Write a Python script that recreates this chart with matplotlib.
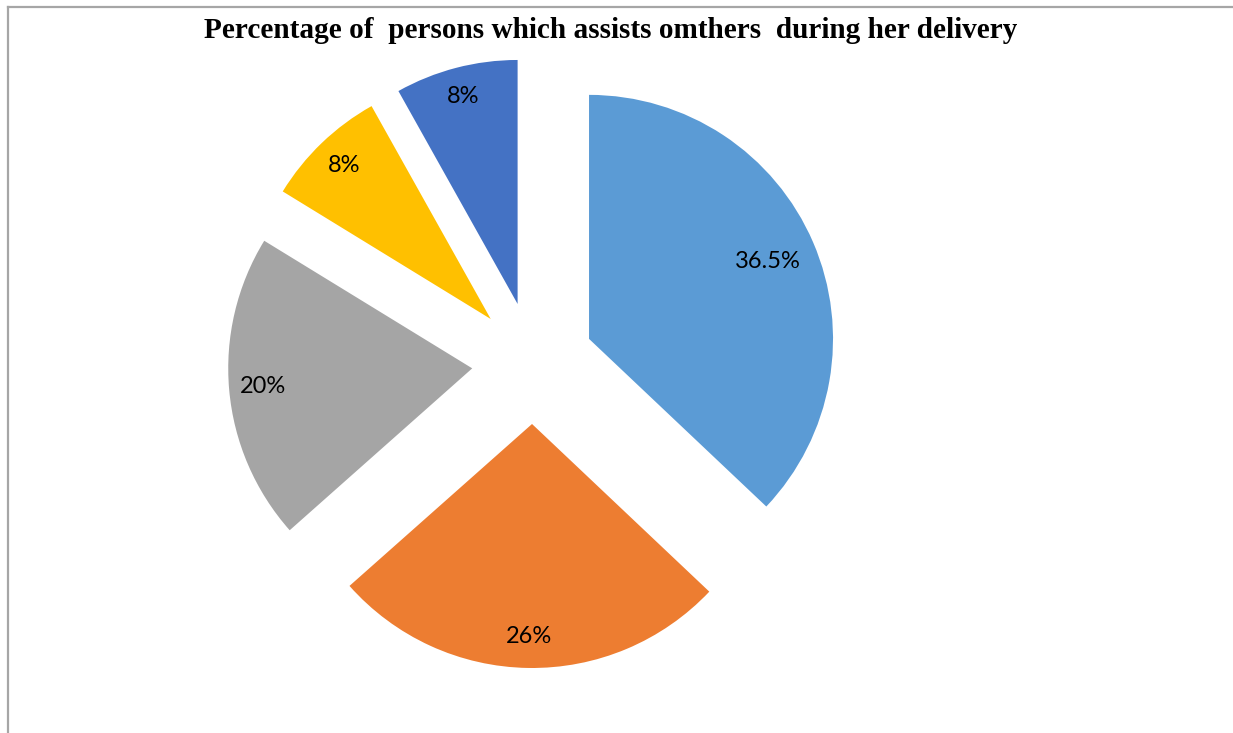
import numpy as np
import matplotlib.pyplot as plt
from matplotlib.lines import Line2D

# share of each helper, clockwise from 12 o'clock
values = [36.5, 26, 20, 8, 8]
labels = ["36.5%", "26%", "20%", "8%", "8%"]
colors = ["#5B9BD5", "#ED7D31", "#A5A5A5", "#FFC000", "#4472C4"]
label_dist = [0.80, 0.87, 0.86, 0.87, 0.88]

W, H = 1233, 733
fig = plt.figure(figsize=(W / 100, H / 100), dpi=100)
ax = fig.add_axes([0, 0, 1, 1])

wedges, _ = ax.pie(values, colors=colors, explode=[0.25] * len(values),
                   startangle=90, counterclock=False, radius=1,
                   wedgeprops=dict(linewidth=0))

for w, lab, d in zip(wedges, labels, label_dist):
    mid = np.deg2rad((w.theta1 + w.theta2) / 2)
    cx, cy = w.center
    ax.text(cx + d * np.cos(mid), cy + d * np.sin(mid), lab,
            ha="center", va="center", fontsize=17, family="Lato")

# pie centre at (533, 363) px, radius 244 px
px = 244.0
cx0, cy0 = 533, 363
ax.set_xlim(-cx0 / px, (W - cx0) / px)
ax.set_ylim(-(H - cy0) / px, cy0 / px)
ax.set_aspect("equal")
ax.axis("off")

fig.text(611 / W, 1 - 31 / H,
         "Percentage of  persons which assists omthers  during her delivery",
         ha="center", va="center", fontsize=21.1, fontweight="bold",
         family="Liberation Serif")

# chart frame, only top and left edges inside the image
fig.add_artist(Line2D([8 / W, 1], [1 - 7 / H, 1 - 7 / H], color="#A6A6A6", lw=1.6))
fig.add_artist(Line2D([8 / W, 8 / W], [0, 1 - 7 / H], color="#A6A6A6", lw=1.6))

fig.savefig("out.png", dpi=100, facecolor="white")
